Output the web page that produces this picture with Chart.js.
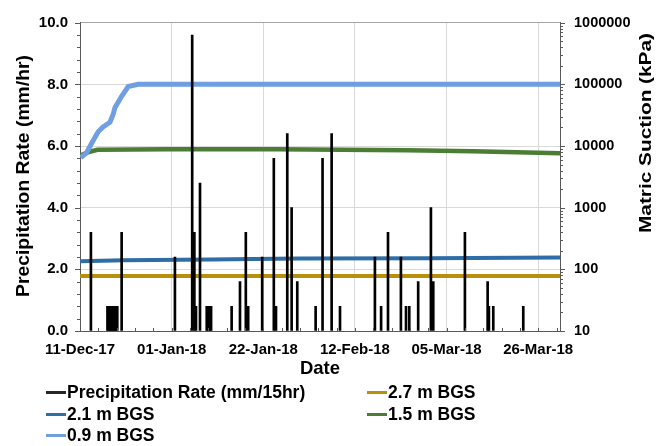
<!DOCTYPE html>
<html>
<head>
<meta charset="utf-8">
<script src="https://cdn.jsdelivr.net/npm/chart.js@4.4.1/dist/chart.umd.min.js"></script>
<style>
    html, body { margin: 0; padding: 0; background: #fff; }
    #wrap { position: relative; width: 672px; height: 446px; }
    #legend { position: absolute; left: 0; top: 0; width: 672px; height: 446px; pointer-events: none;
              font-family: 'Liberation Sans', Arial, sans-serif; font-weight: bold; font-size: 17.5px; color: #000; }
    .legend-item { position: absolute; white-space: nowrap; line-height: 20px; }
    .legend-line { display: inline-block; width: 20px; height: 3px; vertical-align: middle; margin-right: 1px; position: relative; top: -1px; }
</style>
</head>
<body>
<div id="wrap">
    <canvas id="suctionChart" width="672" height="446"></canvas>
    <div id="legend"></div>
</div>
<script>
// Axis range and tick labels
const xStart = '2017-12-11T00:00';
const xEnd = '2018-03-31T00:00';
const xTickDates = ['2017-12-11T00:00', '2018-01-01T00:00', '2018-01-22T00:00', '2018-02-12T00:00', '2018-03-05T00:00', '2018-03-26T00:00'];
const xTickLabels = ['11-Dec-17', '01-Jan-18', '22-Jan-18', '12-Feb-18', '05-Mar-18', '26-Mar-18'];
const rateTicks = [0, 2, 4, 6, 8, 10];
const suctionTicks = [10, 100, 1000, 10000, 100000, 1000000];

// Precipitation rate (mm/hr)
const precipDates = [
    '2017-12-13T12:00',
    '2017-12-17T07:00', '2017-12-17T13:00', '2017-12-17T19:00', '2017-12-18T01:00', '2017-12-18T07:00',
    '2017-12-18T13:00', '2017-12-18T19:00', '2017-12-19T01:00', '2017-12-19T07:00', '2017-12-19T13:00',
    '2017-12-20T13:00', '2018-01-01T18:00', '2018-01-05T17:00', '2018-01-06T05:00', '2018-01-06T14:00',
    '2018-01-07T12:00', '2018-01-09T01:00', '2018-01-09T07:00', '2018-01-09T13:00', '2018-01-09T19:00',
    '2018-01-10T01:00', '2018-01-14T18:00', '2018-01-16T16:00', '2018-01-18T00:00', '2018-01-18T13:00',
    '2018-01-21T18:00', '2018-01-24T10:00', '2018-01-24T22:00', '2018-01-27T12:00', '2018-01-28T12:00',
    '2018-01-29T19:00', '2018-02-03T00:00', '2018-02-04T14:00', '2018-02-06T16:00', '2018-02-08T14:00',
    '2018-02-16T14:00', '2018-02-18T00:00', '2018-02-19T14:00', '2018-02-22T13:00', '2018-02-23T17:00',
    '2018-02-24T11:00', '2018-02-26T12:00', '2018-03-01T10:00', '2018-03-01T23:00', '2018-03-09T05:00',
    '2018-03-14T10:00', '2018-03-14T17:00', '2018-03-15T17:00', '2018-03-22T14:00'
];
const precipRates = [
    3.2,
    0.8, 0.8, 0.8, 0.8, 0.8,
    0.8, 0.8, 0.8, 0.8, 0.8,
    3.2, 2.4, 9.6, 3.2, 0.8,
    4.8, 0.8, 0.8, 0.8, 0.8,
    0.8, 0.8, 1.6, 3.2, 0.8,
    2.4, 5.6, 0.8, 6.4, 4.0,
    1.6, 0.8, 5.6, 6.4, 0.8,
    2.4, 0.8, 3.2, 2.4, 0.8,
    0.8, 1.6, 4.0, 1.6, 3.2,
    1.6, 0.8, 0.8, 0.8
];

// Matric suction (kPa)
const bgs27Dates = ['2017-12-11T00:00', '2018-01-25T00:00', '2018-03-31T00:00'];
const bgs27Values = [78, 78, 78];

const bgs21Dates = ['2017-12-11T00:00', '2017-12-21T00:00', '2018-01-10T00:00', '2018-01-30T00:00', '2018-03-01T00:00', '2018-03-21T00:00', '2018-03-31T00:00'];
const bgs21Values = [135, 140, 145, 150, 151, 154, 156];

const bgs15Dates = ['2017-12-11T00:00', '2017-12-13T00:00', '2017-12-15T00:00', '2017-12-31T00:00', '2018-01-25T00:00', '2018-02-09T00:00', '2018-02-24T00:00', '2018-03-11T00:00', '2018-03-21T00:00', '2018-03-31T00:00'];
const bgs15Values = [7000, 8000, 8700, 8900, 8900, 8700, 8500, 8200, 7900, 7600];

const bgs09Dates = ['2017-12-11T04:00', '2017-12-12T12:00', '2017-12-13T16:00', '2017-12-15T04:00', '2017-12-16T07:00', '2017-12-17T21:00',
                    '2017-12-18T15:00', '2017-12-19T00:00', '2017-12-20T13:00', '2017-12-22T01:00', '2017-12-24T08:00', '2018-03-31T00:00'];
const bgs09Values = [6470, 7750, 11100, 17000, 20300, 24300, 33000, 41800, 64100, 92000, 100000, 100000];

const FONT = "'Liberation Sans', Arial, sans-serif";

// Days since the start of the x axis
function dayOf(s) {
    return (Date.parse(s + 'Z') - Date.parse(xStart + 'Z')) / 864e5;
}

function toPoints(dates, values) {
    return dates.map((d, i) => ({ x: dayOf(d), y: values[i] }));
}

// Axis titles (reading bottom to top) and minor ticks
const axisExtras = {
    id: 'axisExtras',
    afterDraw(chart) {
        const ctx = chart.ctx;
        const area = chart.chartArea;
        const y = chart.scales.y;
        const y2 = chart.scales.y2;
        const x = chart.scales.x;

        ctx.save();
        ctx.strokeStyle = '#595959';
        ctx.lineWidth = 1;
        ctx.beginPath();
        // left axis ticks
        for (let i = 0; i <= 25; i++) {
            const py = Math.round(y.getPixelForValue(i * 0.4)) + 0.5;
            const len = i % 5 === 0 ? 5 : 3;
            ctx.moveTo(area.left - len, py);
            ctx.lineTo(area.left, py);
        }
        // right axis ticks (log)
        for (let e = 1; e <= 6; e++) {
            for (let m = 1; m <= 9; m++) {
                const v = m * Math.pow(10, e);
                if (v > 1000000) break;
                const py = Math.round(y2.getPixelForValue(v)) + 0.5;
                const len = m === 1 ? 5 : 3;
                ctx.moveTo(area.right, py);
                ctx.lineTo(area.right + len, py);
            }
        }
        // bottom axis ticks
        for (let i = 0; i <= 26; i++) {
            const px = Math.round(x.getPixelForValue(i * 4.2)) + 0.5;
            if (px > area.right) break;
            ctx.moveTo(px, area.bottom);
            ctx.lineTo(px, area.bottom - 3);
        }
        ctx.stroke();

        ctx.fillStyle = '#000';
        ctx.textAlign = 'center';
        ctx.textBaseline = 'middle';
        drawTitle(ctx, 'Precipitation Rate (mm/hr)', 24, 176, 18, 242);
        drawTitle(ctx, 'Matric Suction (kPa)', 646, 133, 16.5, 200);
        ctx.restore();
    }
};

function drawTitle(ctx, text, cx, cy, size, length) {
    ctx.save();
    ctx.font = 'bold ' + size + 'px ' + FONT;
    const w = ctx.measureText(text).width;
    ctx.translate(cx, cy);
    ctx.rotate(-Math.PI / 2);
    ctx.scale(length / w, 1);
    ctx.fillText(text, 0, 0);
    ctx.restore();
}

const datasets = [
    {
        type: 'bar',
        label: 'Precipitation Rate (mm/15hr)',
        data: toPoints(precipDates, precipRates),
        backgroundColor: '#000',
        borderWidth: 0,
        barThickness: 2,
        yAxisID: 'y',
        order: 0
    },
    {
        type: 'line',
        label: '2.7 m BGS',
        data: toPoints(bgs27Dates, bgs27Values),
        borderColor: '#b8900c',
        backgroundColor: '#b8900c',
        borderWidth: 4,
        yAxisID: 'y2',
        order: 4
    },
    {
        type: 'line',
        label: '2.1 m BGS',
        data: toPoints(bgs21Dates, bgs21Values),
        borderColor: '#2e6da6',
        backgroundColor: '#2e6da6',
        borderWidth: 4,
        yAxisID: 'y2',
        order: 3
    },
    {
        type: 'line',
        label: '1.5 m BGS',
        data: toPoints(bgs15Dates, bgs15Values),
        borderColor: '#4b7d35',
        backgroundColor: '#4b7d35',
        borderWidth: 4.5,
        yAxisID: 'y2',
        order: 2
    },
    {
        type: 'line',
        label: '0.9 m BGS',
        data: toPoints(bgs09Dates, bgs09Values),
        borderColor: '#6f9fe2',
        backgroundColor: '#6f9fe2',
        borderWidth: 5,
        yAxisID: 'y2',
        order: 1
    }
];

new Chart(document.getElementById('suctionChart'), {
    data: { datasets: datasets },
    options: {
        responsive: false,
        animation: false,
        devicePixelRatio: 1,
        layout: { padding: { top: 12, left: 0, right: 0, bottom: 66 } },
        elements: { point: { radius: 0 }, line: { tension: 0 } },
        plugins: {
            legend: { display: false },
            tooltip: { enabled: false }
        },
        scales: {
            x: {
                type: 'linear',
                offset: false,
                min: dayOf(xStart),
                max: dayOf(xEnd),
                afterBuildTicks: (scale) => {
                    scale.ticks = xTickDates.map(d => ({ value: dayOf(d) }));
                },
                afterFit: (scale) => { scale.height = 49; },
                ticks: {
                    autoSkip: false,
                    maxRotation: 0,
                    padding: 10,
                    color: '#000',
                    font: { family: FONT, size: 15, weight: 'bold' },
                    callback: (v, i) => xTickLabels[i]
                },
                grid: { color: '#d9d9d9', drawTicks: false, offset: false },
                border: { color: '#595959' },
                title: {
                    display: true,
                    text: 'Date',
                    color: '#000',
                    padding: 0,
                    font: { family: FONT, size: 18.5, weight: 'bold' }
                }
            },
            y: {
                type: 'linear',
                position: 'left',
                min: rateTicks[0],
                max: rateTicks[rateTicks.length - 1],
                afterBuildTicks: (scale) => {
                    scale.ticks = rateTicks.map(v => ({ value: v }));
                },
                afterFit: (scale) => { scale.width = 80; },
                ticks: {
                    padding: 12,
                    color: '#000',
                    font: { family: FONT, size: 15, weight: 'bold' },
                    callback: (v) => v.toFixed(1)
                },
                grid: {
                    drawTicks: false,
                    color: (c) => c.tick && c.tick.value === 10 ? '#a6a6a6' : '#d9d9d9'
                },
                border: { color: '#595959' }
            },
            y2: {
                type: 'logarithmic',
                position: 'right',
                min: suctionTicks[0],
                max: suctionTicks[suctionTicks.length - 1],
                afterBuildTicks: (scale) => {
                    scale.ticks = suctionTicks.map(v => ({ value: v, major: true }));
                },
                afterFit: (scale) => { scale.width = 112; },
                ticks: {
                    autoSkip: false,
                    padding: 14,
                    color: '#000',
                    font: { family: FONT, size: 14.5, weight: 'bold' },
                    callback: (v) => String(v)
                },
                grid: { display: true, drawOnChartArea: false, drawTicks: false },
                border: { color: '#595959' }
            }
        }
    },
    plugins: [axisExtras]
});

// Legend laid out in two columns, like the original
const legendSlots = [
    { label: 'Precipitation Rate (mm/15hr)', color: '#262626', left: 46, top: 382 },
    { label: '2.7 m BGS', color: '#b8900c', left: 367, top: 382 },
    { label: '2.1 m BGS', color: '#2e6da6', left: 46, top: 404 },
    { label: '1.5 m BGS', color: '#4b7d35', left: 367, top: 404 },
    { label: '0.9 m BGS', color: '#6f9fe2', left: 46, top: 425 }
];
document.getElementById('legend').innerHTML = legendSlots.map(s => `
    <div class="legend-item" style="left:${s.left}px;top:${s.top}px">
        <span class="legend-line" style="background:${s.color}"></span>${s.label}
    </div>
`).join('');
</script>
</body>
</html>
